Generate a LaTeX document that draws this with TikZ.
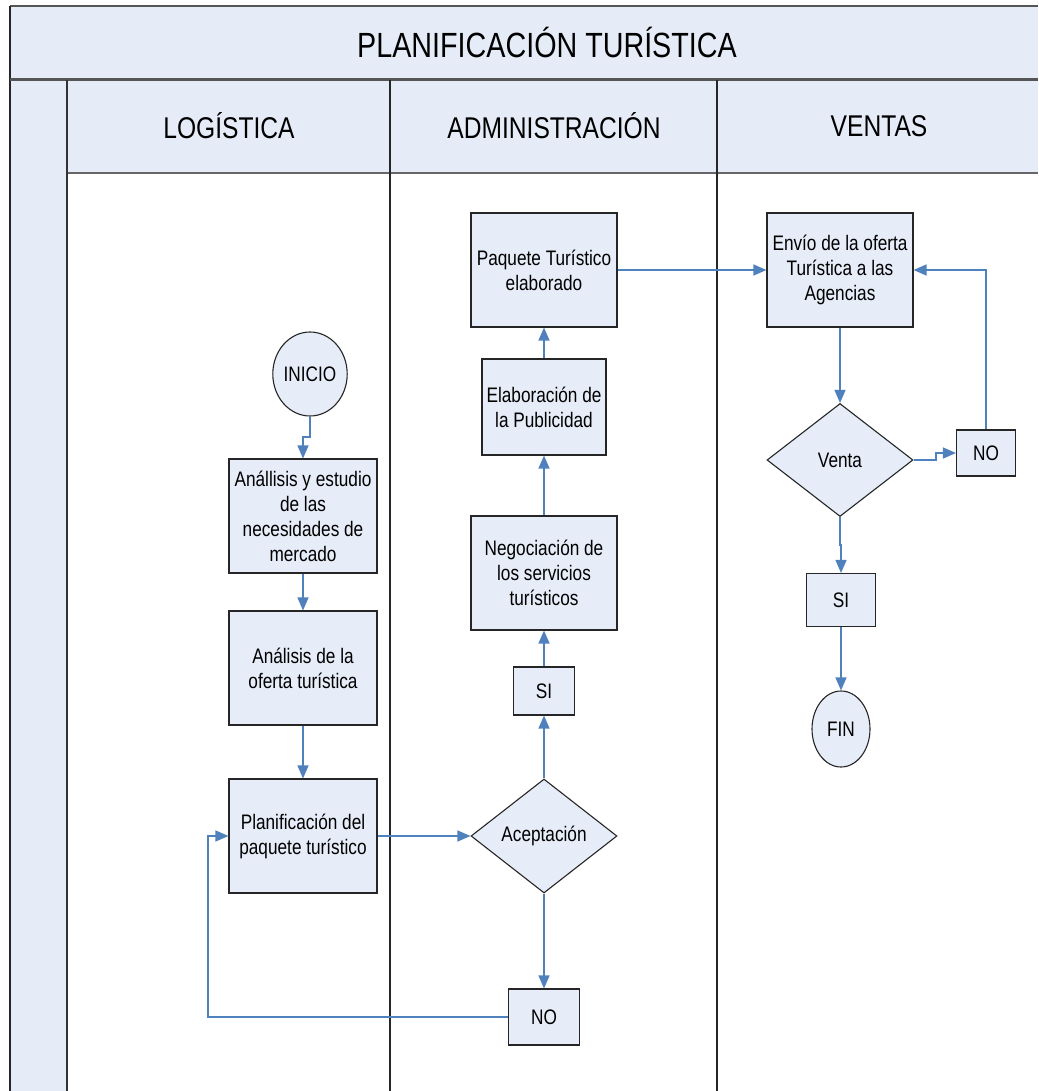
\documentclass[tikz,border=0pt]{standalone}
\usepackage{fontspec}
\setmainfont{Liberation Sans}[FakeStretch=0.82]
\usetikzlibrary{shapes.geometric,arrows.meta}
\definecolor{lanefill}{HTML}{E5ECF7}
\definecolor{boxfill}{HTML}{E6ECF8}
\definecolor{flowblue}{HTML}{4F81BD}
\definecolor{edgegray}{HTML}{555555}
\tikzset{
  procbox/.style={draw=black!85, line width=1.1pt, fill=boxfill, rectangle, inner sep=0pt, align=center,
    font=\fontsize{21}{25}\selectfont},
  decision/.style={draw=black!85, line width=1.1pt, fill=boxfill, diamond, inner sep=0pt, align=center,
    font=\fontsize{21}{25}\selectfont},
  terminal/.style={draw=black!85, line width=1.1pt, fill=boxfill, ellipse, inner sep=0pt, align=center,
    font=\fontsize{21}{25}\selectfont},
  flow/.style={draw=flowblue, line width=1.3pt, -{Triangle[length=13pt,width=11pt]}},
  flowline/.style={draw=flowblue, line width=1.3pt},
  lanetitle/.style={font=\fontsize{30}{34}\selectfont},
}
\begin{document}
\begin{tikzpicture}[x=1pt,y=-1pt]
% canvas
\fill[white] (0,0) rectangle (1038,1091);
\useasboundingbox (0,0) rectangle (1038,1091);

% pool title band, left strip and lane headers
\fill[lanefill] (10,6) rectangle (1038,80);
\fill[lanefill] (10,80) rectangle (67,1091);
\fill[lanefill] (67,80) rectangle (1038,173);
\draw[edgegray, line width=1.5pt] (10,6) -- (1038,6);
\draw[black!85, line width=1.5pt] (10,6) -- (10,1091);
\draw[edgegray, line width=3pt] (10,80) -- (1038,80);
\draw[edgegray!90, line width=2pt] (67,173) -- (1038,173);
\draw[black!80, line width=2pt] (67,80) -- (67,1091);
\draw[black!85, line width=1.2pt] (390,80) -- (390,1091);
\draw[black!85, line width=1.2pt] (717,80) -- (717,1091);

\node[font=\fontsize{35}{40}\selectfont] (title) at (547,42) {PLANIFICACIÓN TURÍSTICA};
\node[lanetitle] (hlog) at (229,126) {LOGÍSTICA};
\node[lanetitle] (hadm) at (554,126) {ADMINISTRACIÓN};
\node[lanetitle] (hven) at (879,126) {VENTAS};

% Logística lane
\node[terminal, minimum width=66pt, minimum height=84pt] (inicio) at (310,374) {INICIO};
\node[procbox, minimum width=148pt, minimum height=114pt] (b1) at (303,516)
  {Anállisis y estudio\\de las\\necesidades de\\mercado};
\node[procbox, minimum width=148pt, minimum height=114pt] (b2) at (303,668)
  {Análisis de la\\oferta turística};
\node[procbox, minimum width=148pt, minimum height=114pt] (b3) at (303,836)
  {Planificación del\\paquete turístico};

% Administración lane
\node[decision, minimum width=146pt, minimum height=114pt] (acept) at (544,836) {Aceptación};
\node[procbox, minimum width=71pt, minimum height=56pt] (no1) at (544,1017) {NO};
\node[procbox, minimum width=61pt, minimum height=48pt] (si1) at (544,691) {SI};
\node[procbox, minimum width=146pt, minimum height=114pt] (neg) at (544,573)
  {Negociación de\\los servicios\\turísticos};
\node[procbox, minimum width=124pt, minimum height=96pt] (elab) at (544,407)
  {Elaboración de\\la Publicidad};
\node[procbox, minimum width=146pt, minimum height=114pt] (paq) at (544,270)
  {Paquete Turístico\\elaborado};

% Ventas lane
\node[procbox, minimum width=146pt, minimum height=114pt] (envio) at (840,270)
  {Envío de la oferta\\Turística a las\\Agencias};
\node[decision, minimum width=146pt, minimum height=113pt] (venta) at (840,460) {Venta};
\node[procbox, minimum width=59pt, minimum height=46pt] (no2) at (986,453) {NO};
\node[procbox, minimum width=69pt, minimum height=53pt] (si2) at (841,600) {SI};
\node[terminal, minimum width=58pt, minimum height=76pt] (fin) at (841,729) {FIN};

% connectors
\coordinate (j1) at (310,437);
\draw[flow] (inicio.south) -- (j1) -| (b1.north);
\draw[flow] (b1.south) -- (b2.north);
\draw[flow] (b2.south) -- (b3.north);
\draw[flow] (b3.east) -- (acept.west);
\draw[flow] (acept.south) -- (no1.north);
\coordinate (r1) at (208,836);
\draw[flow] (no1.west) -| (r1) -- (b3.west);
\draw[flow] (acept.north) -- (si1.south);
\draw[flow] (si1.north) -- (neg.south);
\draw[flow] (neg.north) -- (elab.south);
\draw[flow] (elab.north) -- (paq.south);
\draw[flow] (paq.east) -- (envio.west);
\draw[flow] (envio.south) -- (venta.north);
\coordinate (j2) at (936,460);
\draw[flow] (venta.east) -- (j2) |- (no2.west);
\draw[flow] (no2.north) |- (envio.east);
\coordinate (j3) at (840,545);
\draw[flow] (venta.south) -- (j3) -| (si2.north);
\draw[flow] (si2.south) -- (fin.north);
\end{tikzpicture}
\end{document}
